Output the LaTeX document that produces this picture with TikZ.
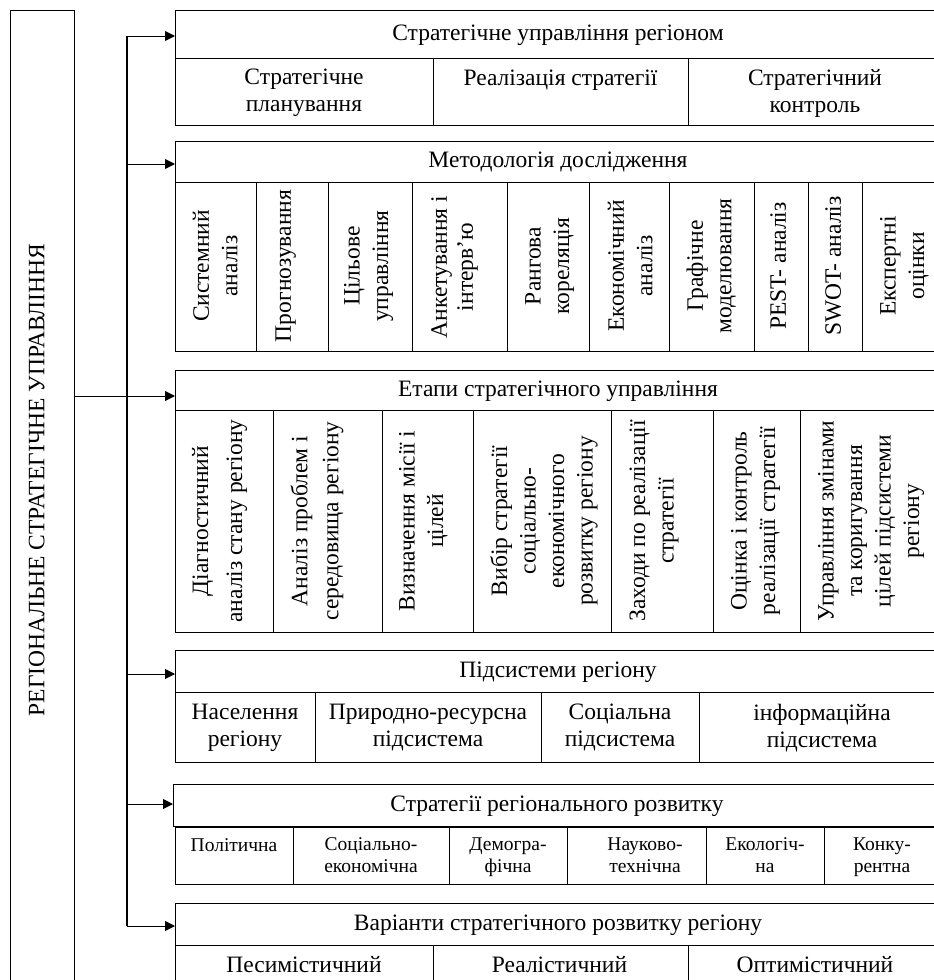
\documentclass[tikz,border=0pt]{standalone}
\usepackage{fontspec}
\setmainfont{Liberation Serif}
\usetikzlibrary{arrows.meta}
\begin{document}
\begin{tikzpicture}[x=1pt,y=-1pt,line width=1pt,
  st/.style={inner sep=0pt,align=center,
    execute at begin node={\rule{0pt}{0.75em}},
    execute at end node={\rule[-0.25em]{0pt}{0pt}}},
  hdr/.style={st,draw,anchor=north west,minimum width=765pt,font=\fontsize{23.5}{27}\selectfont},
  txt/.style={st,font=\fontsize{23.5}{27}\selectfont},
  vtxt/.style={st,rotate=90,font=\fontsize{23.5}{28.5}\selectfont},
  stxt/.style={st,font=\fontsize{19.5}{21.5}\selectfont},
  arr/.style={-{Triangle[length=10pt,width=10pt]},line width=1pt},
  trunk/.style={line width=1.5pt}]
\useasboundingbox (0,0) rectangle (934,980);
\clip (0,0) rectangle (934,980);

% main box
\draw (10,10) rectangle (74,1000);
\node[st,rotate=90,font=\fontsize{23.5}{27}\selectfont] (main) at (38.5,480) {РЕГІОНАЛЬНЕ СТРАТЕГІЧНЕ УПРАВЛІННЯ};

% header boxes
\node[hdr,minimum height=48pt] (h1) at (175,10) {Стратегічне управління регіоном};
\node[hdr,minimum height=41pt] (h2) at (175,141) {Методологія дослідження};
\node[hdr,minimum height=40pt] (h3) at (175,370) {Етапи стратегічного управління};
\node[hdr,minimum height=42pt] (h4) at (175,650) {Підсистеми регіону};
\node[hdr,minimum height=42pt,minimum width=767pt] (h5) at (173,784) {Стратегії регіонального розвитку};
\node[hdr,minimum height=42pt] (h6) at (175,903) {Варіанти стратегічного розвитку регіону};

% trunk
\coordinate (m) at (74,396);
\coordinate (t1) at (127,36);
\coordinate (t2) at (127,164);
\coordinate (t3) at (127,396);
\coordinate (t4) at (127,674);
\coordinate (t5) at (127,804);
\coordinate (t6) at (127,926);
\draw[trunk] (t1) -- (t6);
\draw (m) -- (t3);
\draw[arr] (t1) -- (t1 -| h1.west);
\draw[arr] (t2) -- (t2 -| h2.west);
\draw[arr] (t3) -- (t3 -| h3.west);
\draw[arr] (t4) -- (t4 -| h4.west);
\draw[arr] (t5) -- (t5 -| h5.west);
\draw[arr] (t6) -- (t6 -| h6.west);

% row 1
\draw (175,58) rectangle (940,125);
\foreach \x in {433,688} \draw (\x,58) -- (\x,125);
\node[txt] (c11) at (304,93.5) {Стратегічне\\планування};
\node[txt] (c12) at (560.5,80) {Реалізація стратегії};
\node[txt] (c13) at (815,93.5) {Стратегічний\\контроль};

% row 2
\draw (175,182) rectangle (940,351);
\foreach \x in {256,328,412,507,589,669,754,808,862} \draw (\x,182) -- (\x,351);
\node[vtxt] (c21) at (218,266) {Системний\\аналіз};
\node[vtxt] (c22) at (285,266) {Прогнозування};
\node[vtxt] (c23) at (369,266) {Цільове\\управління};
\node[vtxt,font=\fontsize{23.5}{26}\selectfont] (c24) at (455,267) {Анкетування і\\інтерв’ю};
\node[vtxt] (c25) at (550,266) {Рангова\\кореляція};
\node[vtxt] (c26) at (633,266) {Економічний\\аналіз};
\node[vtxt] (c27) at (712,266) {Графічне\\моделювання};
\node[vtxt] (c28) at (780,266) {PEST- аналіз};
\node[vtxt] (c29) at (835,266) {SWOT- аналіз};
\node[vtxt] (c210) at (905,266) {Експертні\\оцінки};

% row 3
\draw (175,410) rectangle (940,632);
\foreach \x in {273,382,473,611,713,800} \draw (\x,410) -- (\x,632);
\node[vtxt,font=\fontsize{23.5}{34}\selectfont] (c31) at (220,521) {Діагностичний\\аналіз стану регіону};
\node[vtxt,font=\fontsize{23.5}{31}\selectfont] (c32) at (317.5,521) {Аналіз проблем і\\середовища регіону};
\node[vtxt] (c33) at (424,521) {Визначення місії і\\цілей};
\node[vtxt] (c34) at (544.5,521) {Вибір стратегії\\соціально-\\економічного\\розвитку регіону};
\node[vtxt] (c35) at (654.5,521) {Заходи по реалізації\\стратегії};
\node[vtxt] (c36) at (756,521) {Оцінка і контроль\\реалізації стратегії};
\node[vtxt] (c37) at (871.5,521) {Управління змінами\\та коригування\\цілей підсистеми\\регіону};

% row 4
\draw (175,692) rectangle (940,762);
\foreach \x in {315,541,699} \draw (\x,692) -- (\x,762);
\node[txt] (c41) at (245,728.5) {Населення\\регіону};
\node[txt] (c42) at (428,728.5) {Природно-ресурсна\\підсистема};
\node[txt] (c43) at (620,728.5) {Соціальна\\підсистема};
\node[txt] (c44) at (822,728.5) {інформаційна\\підсистема};

% row 5
\draw (175,827) rectangle (940,884);
\foreach \x in {293,449,567,706,824} \draw (\x,827) -- (\x,884);
\node[stxt] (c51) at (234,847) {Політична};
\node[stxt] (c52) at (371,857.5) {Соціально-\\економічна};
\node[stxt] (c53) at (508,857.5) {Демогра-\\фічна};
\node[stxt] (c54) at (645,857.5) {Науково-\\технічна};
\node[stxt] (c55) at (765,857.5) {Екологіч-\\на};
\node[stxt] (c56) at (882,857.5) {Конку-\\рентна};

% row 6
\draw (175,945) rectangle (940,1010);
\foreach \x in {433,688} \draw (\x,945) -- (\x,1010);
\node[txt] (c61) at (304,967) {Песимістичний};
\node[txt] (c62) at (559.5,967) {Реалістичний};
\node[txt] (c63) at (815,967) {Оптимістичний};
\end{tikzpicture}
\end{document}
